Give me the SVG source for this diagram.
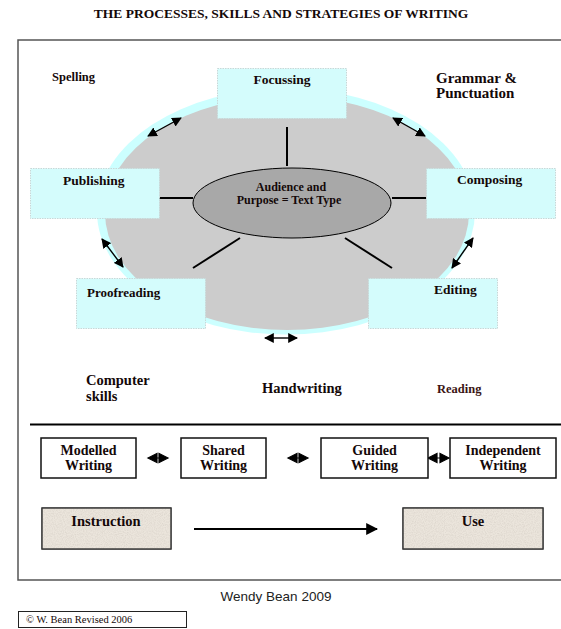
<svg xmlns="http://www.w3.org/2000/svg" width="561" height="629" viewBox="0 0 561 629">
<style>
text{font-family:"Liberation Serif","Times New Roman",serif;font-weight:bold;fill:#140808}
.cbox{fill:#d4fcfc;stroke:#c8d8d8;stroke-width:1;stroke-dasharray:1.5 1}
.wbox{fill:#fff;stroke:#111;stroke-width:1.5}
.tbox{fill:#ebe5dc;stroke:#333;stroke-width:1.2}
.ln{stroke:#000;stroke-width:2;fill:none}
.arr{stroke:#000;stroke-width:1.4;fill:none;marker-start:url(#ah);marker-end:url(#ah)}
.mid{text-anchor:middle}
</style>
<defs>
<marker id="ah" viewBox="0 0 10 10" refX="9" refY="5" markerWidth="7" markerHeight="7" markerUnits="strokeWidth" orient="auto-start-reverse">
<path d="M0,0 L10,5 L0,10 z" fill="#000"/>
</marker>
<marker id="ah2" viewBox="0 0 10 10" refX="9" refY="5" markerWidth="6" markerHeight="6" markerUnits="strokeWidth" orient="auto">
<path d="M0,0 L10,5 L0,10 z" fill="#000"/>
</marker>
<filter id="grain" x="0" y="0" width="1" height="1">
<feTurbulence type="fractalNoise" baseFrequency="0.9" numOctaves="2" seed="3" result="n"/>
<feColorMatrix in="n" type="matrix" values="0 0 0 0 0.55  0 0 0 0 0.5  0 0 0 0 0.45  0 0 0 -1.2 0.75" result="c"/>
<feComposite in="c" in2="SourceGraphic" operator="atop"/>
</filter>
</defs>
<rect width="561" height="629" fill="#fff"/>
<text class="mid" x="281" y="18" font-size="13.5">THE PROCESSES, SKILLS AND STRATEGIES OF WRITING</text>
<rect x="18" y="40" width="560" height="540" fill="none" stroke="#555" stroke-width="1.5"/>

<g id="cycle">
<ellipse cx="286" cy="211.5" rx="189" ry="123" fill="#ccffff"/>
<ellipse cx="287" cy="213" rx="182" ry="117" fill="#cccccc"/>
</g>

<g id="connectors">
<line class="ln" x1="287" y1="127" x2="287" y2="166"/>
<line class="ln" x1="159" y1="198" x2="193" y2="198"/>
<line class="ln" x1="392" y1="198" x2="426" y2="198"/>
<line class="ln" x1="193" y1="268" x2="240" y2="238"/>
<line class="ln" x1="345" y1="238" x2="392" y2="268"/>
<line class="arr" x1="148" y1="136" x2="181" y2="118"/>
<line class="arr" x1="393" y1="118" x2="425" y2="136"/>
<line class="arr" x1="102" y1="239" x2="123" y2="267"/>
<line class="arr" x1="473" y1="238" x2="452" y2="268"/>
<line class="arr" x1="265" y1="338" x2="297" y2="338"/>
<path d="M148,458 L157,453.5 L157,462.5 z M168,458 L159,453.5 L159,462.5 z M156,458 H160" fill="#000" stroke="#000" stroke-width="1.2"/>
<path d="M288,458 L297,453.5 L297,462.5 z M308,458 L299,453.5 L299,462.5 z M296,458 H300" fill="#000" stroke="#000" stroke-width="1.2"/>
<path d="M428,458 L437,453.5 L437,462.5 z M449,458 L440,453.5 L440,462.5 z M436,458 H441" fill="#000" stroke="#000" stroke-width="1.2"/>
<line x1="194" y1="529" x2="377" y2="529" stroke="#000" stroke-width="2" marker-end="url(#ah2)"/>
<line x1="30" y1="424.5" x2="561" y2="424.5" stroke="#000" stroke-width="2.2"/>
</g>

<g id="center">
<ellipse cx="292" cy="203" rx="99" ry="35" fill="#a8a8a8" stroke="#000" stroke-width="1"/>
<text class="mid" x="291" y="191" font-size="12">Audience and</text>
<text class="mid" x="289" y="203.5" font-size="12">Purpose = Text Type</text>
</g>

<g id="focussing"><rect class="cbox" x="217.5" y="68.5" width="129" height="50"/><text class="mid" x="282" y="84" font-size="13.5">Focussing</text></g>
<g id="publishing"><rect class="cbox" x="30.5" y="168.5" width="129" height="50"/><text x="63" y="185" font-size="13.5">Publishing</text></g>
<g id="composing"><rect class="cbox" x="426.5" y="168.5" width="129" height="50"/><text x="457" y="184" font-size="13.5">Composing</text></g>
<g id="proofreading"><rect class="cbox" x="76.5" y="278.5" width="129" height="50"/><text x="87" y="297" font-size="13">Proofreading</text></g>
<g id="editing"><rect class="cbox" x="368.5" y="278.5" width="129" height="50"/><text x="434" y="294" font-size="13.5">Editing</text></g>

<g id="skills">
<text x="52" y="81" font-size="12.5">Spelling</text>
<text x="436" y="83" font-size="15">Grammar &amp;</text>
<text x="436" y="98" font-size="15">Punctuation</text>
<text x="86" y="385" font-size="14.5">Computer</text>
<text x="86" y="401" font-size="14.5">skills</text>
<text x="262" y="393" font-size="14.5">Handwriting</text>
<text x="437" y="393" font-size="12.5" style="fill:#3a1414">Reading</text>
</g>

<g id="modelled"><rect class="wbox" x="41" y="438" width="95" height="40"/><text class="mid" x="88.5" y="455" font-size="14">Modelled</text><text class="mid" x="88.5" y="470" font-size="14">Writing</text></g>
<g id="shared"><rect class="wbox" x="181" y="438" width="85" height="40"/><text class="mid" x="223.5" y="455" font-size="14">Shared</text><text class="mid" x="223.5" y="470" font-size="14">Writing</text></g>
<g id="guided"><rect class="wbox" x="321" y="438" width="107" height="40"/><text class="mid" x="374.5" y="455" font-size="14">Guided</text><text class="mid" x="374.5" y="470" font-size="14">Writing</text></g>
<g id="independent"><rect class="wbox" x="450" y="438" width="106" height="40"/><text class="mid" x="503" y="455" font-size="14">Independent</text><text class="mid" x="503" y="470" font-size="14">Writing</text></g>

<g id="instruction"><rect class="tbox" x="42" y="508" width="129" height="41"/><rect x="42" y="508" width="129" height="41" fill="#ebe5dc" filter="url(#grain)" opacity="0.6"/><rect x="42" y="508" width="129" height="41" fill="none" stroke="#333" stroke-width="1.2"/><text class="mid" x="106" y="526" font-size="14.5">Instruction</text></g>
<g id="use"><rect class="tbox" x="403" y="508" width="140" height="41"/><rect x="403" y="508" width="140" height="41" fill="#ebe5dc" filter="url(#grain)" opacity="0.6"/><rect x="403" y="508" width="140" height="41" fill="none" stroke="#333" stroke-width="1.2"/><text class="mid" x="473" y="526" font-size="14.5">Use</text></g>

<text class="mid" x="276" y="601" font-size="13.5" style="font-family:'Liberation Sans',Arial,sans-serif;font-weight:normal;fill:#222">Wendy Bean 2009</text>
<g id="copyright"><rect x="18.5" y="611.5" width="168" height="16" fill="#fff" stroke="#222" stroke-width="1"/><text x="26" y="623" font-size="10.5" style="font-weight:normal">© W. Bean Revised 2006</text></g>
</svg>
